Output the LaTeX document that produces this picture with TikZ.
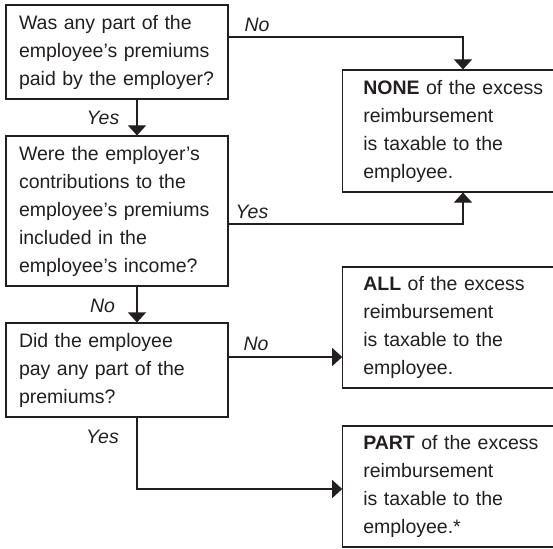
\documentclass[tikz,border=0pt]{standalone}
\usepackage{fontspec}
\setmainfont{Liberation Sans}
\usetikzlibrary{arrows.meta}
\definecolor{ink}{HTML}{231F20}
\begin{document}
\begin{tikzpicture}[x=1pt,y=-1pt,>={Triangle[length=10pt,width=18pt]},line width=1.1pt,color=ink,
		qbox/.style={draw,minimum width=222,minimum height=94,text width=196,inner xsep=13,inner ysep=0,align=left,font=\fontsize{19.5}{28}\selectfont},
		abox/.style={qbox,minimum height=121,text width=181,inner xsep=8.25},
		lbl/.style={font=\fontsize{19.5}{28}\selectfont\itshape,anchor=base,inner sep=0}]
		\useasboundingbox (0,0) rectangle (553,548);
		\node[qbox] (paid) at (117,52) {Was any part of the\\employee’s premiums\\paid by the employer?};
		\node[qbox,minimum height=150] (incl) at (117,211) {Were the employer’s\\contributions to the\\employee’s premiums\\included in the\\employee’s income?};
		\node[qbox] (self) at (117,370) {Did the employee\\pay any part of the\\premiums?};
		\node[abox,minimum height=122] (none) at (453.75,131) {\textbf{NONE} of the excess\\reimbursement\\is taxable to the\\employee.};
		\node[abox] (all) at (453.75,327.5) {\textbf{ALL} of the excess\\reimbursement\\is taxable to the\\employee.};
		\node[abox] (part) at (453.75,486.5) {\textbf{PART} of the excess\\reimbursement\\is taxable to the\\employee.*};
		\coordinate (mid) at (137,0);
		\coordinate (rt) at (463,0);
		\coordinate (ya) at (0,37);
		\coordinate (yb) at (0,224);
		\coordinate (yc) at (0,357);
		\coordinate (yd) at (0,489);
		\draw[->] (paid.south -| mid) -- (incl.north -| mid);
		\draw[->] (incl.south -| mid) -- (self.north -| mid);
		\draw[->] (paid.east |- ya) -| (none.north -| rt);
		\draw[->] (incl.east |- yb) -| (none.south -| rt);
		\draw[->] (self.east |- yc) -- (all.west |- yc);
		\draw[->] (self.south -| mid) |- (part.west |- yd);
		\foreach \t/\x/\y/\n in {No/257/32/n1,Yes/103/125/y1,Yes/252/218/y2,No/102.5/312.7/n2,No/256/350/n3,Yes/102.5/443/y3}{\node[lbl] (\n) at (\x,\y) {\t};}
	\end{tikzpicture}
\end{document}
